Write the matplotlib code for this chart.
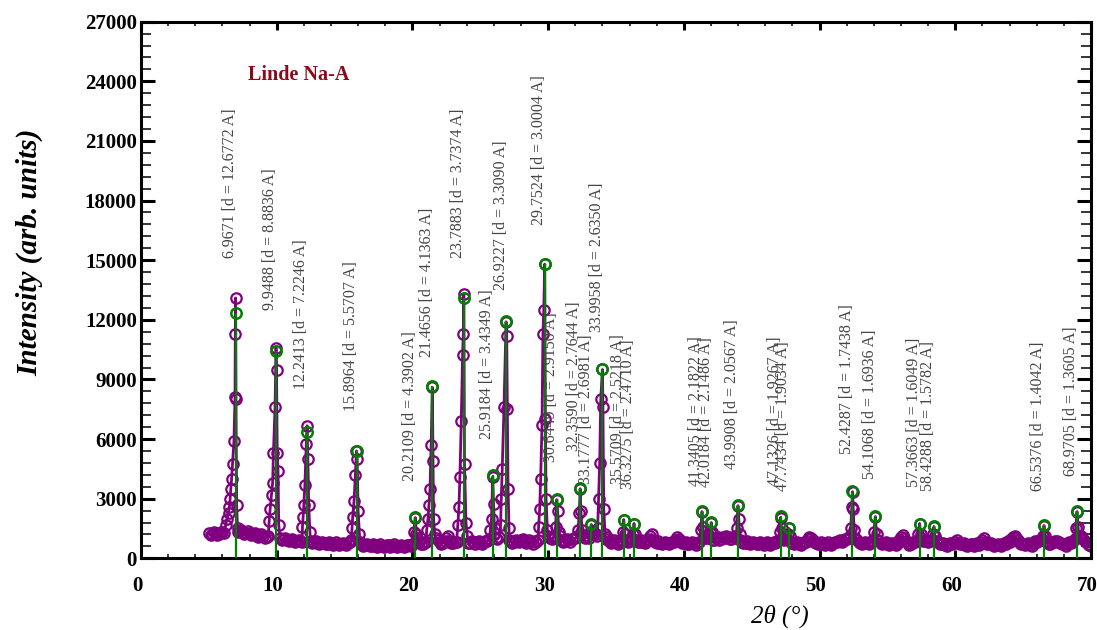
import numpy as np
import matplotlib.pyplot as plt
import matplotlib.transforms as mtransforms
from matplotlib.ticker import MultipleLocator

plt.rcParams['font.family'] = ['Liberation Serif', 'DejaVu Serif']

# peak list (2theta, d-spacing, stick height)
peak_pos = [6.9671, 9.9488, 12.2413, 15.8964, 20.2109, 21.4656, 23.7883, 25.9184,
            26.9227, 29.7524, 30.6449, 32.3590, 33.1777, 33.9958, 35.5709, 36.3275,
            41.3405, 42.0184, 43.9908, 47.1326, 47.7434, 52.4287, 54.1068, 57.3663,
            58.4288, 66.5376, 68.9705]
peak_d = ['12.6772', '8.8836', '7.2246', '5.5707', '4.3902', '4.1363', '3.7374', '3.4349',
          '3.3090', '3.0004', '2.9150', '2.7644', '2.6981', '2.6350', '2.5218', '2.4710',
          '2.1822', '2.1486', '2.0567', '1.9267', '1.9034', '1.7438', '1.6936', '1.6049',
          '1.5782', '1.4042', '1.3605']
peak_h = [12330, 10420, 6370, 5420, 2080, 8670, 13080, 4200,
          11920, 14830, 3000, 3530, 1750, 9530, 1950, 1750,
          2370, 1830, 2700, 2120, 1530, 3370, 2120, 1750,
          1620, 1670, 2370]

# background read every 0.25 deg from 5.0 to 70.0
bg_y = [1250, 1200, 1260, 1230,  1300, 1350, 1500, 1700,
        1400, 1350, 1300, 1280,  1250, 1200, 1150, 1120,
        1100, 1060, 1040, 1100,  1200, 1000, 950, 920,
        900, 880, 870, 850,      900, 1000, 850, 800,
        780, 760, 770, 740,      760, 740, 730, 720,
        730, 750, 900, 1200,     900, 700, 660, 650,
        640, 660, 630, 640,      620, 650, 640, 620,
        630, 640, 620, 660,      700, 900, 800, 720,
        800, 1000, 1100, 1000,   800, 780, 1000, 850,
        760, 800, 900, 1000,     850, 780, 800, 820,
        780, 800, 850, 1000,     1100, 950, 1000, 1100,
        1000, 850, 820, 880,     900, 860, 820, 800,
        850, 900, 1100, 1200,    1100, 950, 1100, 1000,
        900, 880, 900, 950,      1000, 1100, 1200, 1000,
        1000, 1100, 1200, 1300,  1200, 950, 850, 820,
        800, 820, 1000, 900,     850, 1000, 900, 820,
        800, 850, 1100, 900,     780, 760, 750, 770,
        760, 800, 1050, 850,     760, 740, 760, 750,
        760, 900, 1100, 1000,    1000, 900, 1050, 950,
        1000, 1050, 950, 1100,   1000, 820, 780, 760,
        750, 770, 740, 760,      750, 740, 760, 780,
        900, 1000, 1000, 900,    780, 750, 740, 760,
        800, 1050, 900, 780,     740, 730, 720, 740,
        760, 800, 900, 850,      950, 1100, 1200, 900,
        780, 760, 750, 800,      1000, 900, 780, 750,
        720, 700, 720, 760,      1050, 1000, 760, 720,
        800, 900, 1000, 900,     800, 900, 950, 800,
        700, 680, 700, 720,      820, 780, 700, 680,
        670, 700, 680, 690,      900, 800, 700, 680,
        660, 680, 700, 720,      800, 1050, 1000, 760,
        700, 720, 680, 760,      800, 900, 1000, 800,
        720, 800, 880, 760,      700, 720, 750, 900,
        1000, 1100, 900, 700,    600]

# in-between scan points, 5.125 to 69.875
bg_y_half = [1150, 1320, 1180, 1300,  1250, 1400, 1600, 1800,
             1320, 1420, 1220, 1350,  1180, 1260, 1080, 1200,
             1020, 1120, 980, 1150,   1100, 900, 1000, 850,
             950, 820, 930, 800,      950, 900, 780, 860,
             700, 820, 700, 800,      680, 800, 680, 790,
             680, 800, 1000, 1100,    800, 620, 720, 600,
             700, 590, 700, 580,      690, 580, 700, 570,
             690, 580, 690, 600,      800, 1000, 700, 800,
             900, 1100, 1000, 900,    720, 850, 1100, 780,
             820, 720, 950, 1100,     780, 860, 740, 880,
             720, 880, 950, 1100,     1000, 1050, 900, 1000,
             900, 780, 900, 800,      950, 780, 900, 740,
             800, 950, 1000, 1300,    1000, 1050, 950, 1100,
             820, 960, 820, 1000,     1100, 1000, 1100, 1100,
             900, 1250, 1100, 1400,   1000, 1050, 780, 900,
             740, 900, 1100, 820,     950, 900, 820, 900,
             750, 950, 1200, 820,     850, 700, 820, 700,
             840, 900, 950, 780,      820, 700, 830, 690,
             840, 1000, 1000, 1100,   900, 1000, 900, 1050,
             1100, 950, 1050, 1000,   900, 760, 850, 700,
             820, 700, 820, 690,      820, 690, 820, 850,
             1000, 900, 950, 820,     700, 820, 680, 830,
             950, 1000, 820, 700,     800, 680, 800, 680,
             820, 880, 800, 950,      1000, 1200, 1000, 820,
             700, 820, 700, 880,      950, 850, 700, 820,
             660, 780, 660, 900,      1150, 880, 680, 800,
             850, 1000, 850, 850,     850, 1000, 850, 740,
             760, 620, 770, 800,      900, 700, 760, 620,
             740, 620, 760, 800,      1000, 720, 760, 620,
             730, 620, 760, 850,      950, 1100, 900, 700,
             650, 780, 620, 850,      880, 950, 880, 700,
             800, 880, 800, 700,      640, 800, 820, 1000,
             1050, 1000, 800, 650]

# points across each reflection
profiles = [
    [(6.25, 1700), (6.35, 2000), (6.45, 2300), (6.52, 2600), (6.57, 3000), (6.62, 3500),
     (6.68, 4000), (6.75, 4750), (6.85, 5900), (6.93, 8100), (6.95, 11300), (6.97, 13100),
     (7.0, 8000), (7.05, 2700), (7.12, 1500)],
    [(9.45, 1900), (9.52, 2500), (9.62, 3200), (9.70, 3800), (9.76, 5300), (9.88, 7600),
     (9.95, 10600), (9.99, 9450), (10.04, 5300), (10.1, 4400), (10.15, 1700)],
    [(11.9, 1600), (11.95, 2100), (12.0, 2700), (12.08, 3700), (12.18, 5750), (12.24, 6670),
     (12.3, 5000), (12.36, 2700), (12.45, 1300)],
    [(15.55, 1500), (15.6, 2100), (15.7, 2900), (15.8, 4200), (15.88, 5400), (15.93, 5000),
     (16.0, 2400), (16.1, 1200)],
    [(20.1, 1300), (20.21, 2050), (20.3, 1200)],
    [(21.05, 1400), (21.15, 2000), (21.22, 2700), (21.3, 3500), (21.38, 5700), (21.47, 8600),
     (21.52, 4900), (21.56, 2000), (21.65, 1200)],
    [(23.35, 1700), (23.43, 2600), (23.5, 4100), (23.6, 6900), (23.7, 10250), (23.75, 11300),
     (23.79, 13300), (23.84, 4750), (23.95, 1800), (24.05, 1100)],
    [(25.75, 1400), (25.83, 2000), (25.92, 4100), (25.98, 2750), (26.05, 1500)],
    [(26.5, 1700), (26.55, 3000), (26.62, 4500), (26.75, 7600), (26.9, 11900), (26.95, 11200),
     (27.0, 7500), (27.05, 3500), (27.12, 1500)],
    [(29.3, 1600), (29.38, 2500), (29.45, 4000), (29.55, 6700), (29.62, 11300), (29.68, 12500),
     (29.75, 14800), (29.8, 7000), (29.85, 3000), (29.95, 1400)],
    [(30.55, 1600), (30.64, 2950), (30.7, 2400), (30.8, 1300)],
    [(32.2, 1400), (32.3, 2300), (32.36, 3500), (32.42, 2400), (32.5, 1400)],
    [(33.1, 1300), (33.18, 1700), (33.25, 1200)],
    [(33.65, 1500), (33.72, 3000), (33.8, 4800), (33.88, 8000), (34.0, 9500), (34.04, 7600),
     (34.1, 2500), (34.2, 1200)],
    [(35.5, 1300), (35.57, 1950), (35.65, 1200)],
    [(36.25, 1200), (36.33, 1750), (36.4, 1200)],
    [(41.25, 1400), (41.34, 2350), (41.4, 1600)],
    [(41.95, 1300), (42.02, 1800), (42.1, 1300)],
    [(43.9, 1500), (43.99, 2650), (44.05, 2000), (44.12, 1200)],
    [(47.05, 1300), (47.13, 2050), (47.2, 1500)],
    [(47.68, 1200), (47.74, 1500), (47.82, 1100)],
    [(52.3, 1500), (52.38, 2600), (52.43, 3350), (52.48, 2500), (52.55, 1400)],
    [(54.0, 1300), (54.11, 2100), (54.2, 1200)],
    [(57.28, 1200), (57.37, 1750), (57.45, 1200)],
    [(58.35, 1200), (58.43, 1600), (58.5, 1100)],
    [(66.45, 1100), (66.54, 1650), (66.62, 1100)],
    [(68.88, 1500), (68.97, 2350), (69.05, 1600)],
]

# height where each rotated label starts
label_y = [15100, 12500, 8500, 7400, 3900, 10150, 15100, 6000,
           13500, 16750, 4850, 5400, 3750, 11400, 3750, 3500,
           3650, 3600, 4500, 3650, 3400, 5250, 4000, 3600,
           3400, 3400, 4150]

# merge background with the peak points
bg_x = np.concatenate([np.arange(len(bg_y)) * 0.25 + 5.0,
                       np.arange(len(bg_y_half)) * 0.25 + 5.125])
bg_all = np.array(bg_y + bg_y_half)
keep = np.ones(len(bg_x), dtype=bool)
for prof in profiles:
    xs = [p[0] for p in prof]
    keep &= ~((bg_x >= min(xs)) & (bg_x <= max(xs)))
all_x = list(bg_x[keep])
all_y = list(bg_all[keep])
for prof in profiles:
    all_x += [p[0] for p in prof]
    all_y += [p[1] for p in prof]
order = np.argsort(all_x)
tt = np.array(all_x)[order]
inten = np.array(all_y)[order]

fig = plt.figure(figsize=(10.97, 6.30), dpi=100)
ax = fig.add_axes([0.1285, 0.1138, 0.866, 0.8518])

ax.plot(tt, inten, '-o', color='#800080', lw=2, ms=7.5, mfc='none', mew=1.6, zorder=2)

ax.vlines(peak_pos, 0, peak_h, color='#008000', lw=1.6, zorder=3)
ax.plot(peak_pos, peak_h, 'o', color='#008000', ms=7.5, mfc='none', mew=1.8, zorder=4)

for p, d, ly in zip(peak_pos, peak_d, label_y):
    ax.text(p - 0.42, ly, '%.4f [d = %s A]' % (p, d), rotation=90, ha='center', va='bottom',
            fontsize=11.5, color='#444444', zorder=5)

ax.text(11.6, 24300, 'Linde Na-A', color='#8b0a1a', fontsize=14.5, fontweight='bold',
        ha='center', va='center')

ax.set_xlim(0, 70)
ax.set_ylim(0, 27000)
ax.xaxis.set_major_locator(MultipleLocator(10))
ax.xaxis.set_minor_locator(MultipleLocator(2))
ax.yaxis.set_major_locator(MultipleLocator(3000))
ax.yaxis.set_minor_locator(MultipleLocator(600))

ax.tick_params(axis='both', which='both', direction='in', top=True, right=True)
ax.tick_params(axis='x', which='major', length=6, width=2.2, pad=13)
ax.tick_params(axis='x', which='minor', length=3, width=1.1)
ax.tick_params(axis='y', which='major', length=10, width=2.2, pad=3)
ax.tick_params(axis='y', which='minor', length=7, width=1.1)
shift = mtransforms.ScaledTranslation(-4 / 100, 0, fig.dpi_scale_trans)
for lab in ax.get_xticklabels():
    lab.set_transform(lab.get_transform() + shift)
for lab in ax.get_xticklabels() + ax.get_yticklabels():
    lab.set_fontweight('bold')
    lab.set_fontsize(15)
for sp in ax.spines.values():
    sp.set_linewidth(2.2)

ax.set_ylabel('Intensity (arb. units)', fontsize=21, fontweight='bold', fontstyle='italic')
ax.yaxis.set_label_coords(-0.103, 0.57)
ax.set_xlabel('2θ (°)', fontsize=18, fontstyle='italic')
ax.xaxis.set_label_coords(0.673, -0.087)

plt.savefig('out.png', dpi=100)
